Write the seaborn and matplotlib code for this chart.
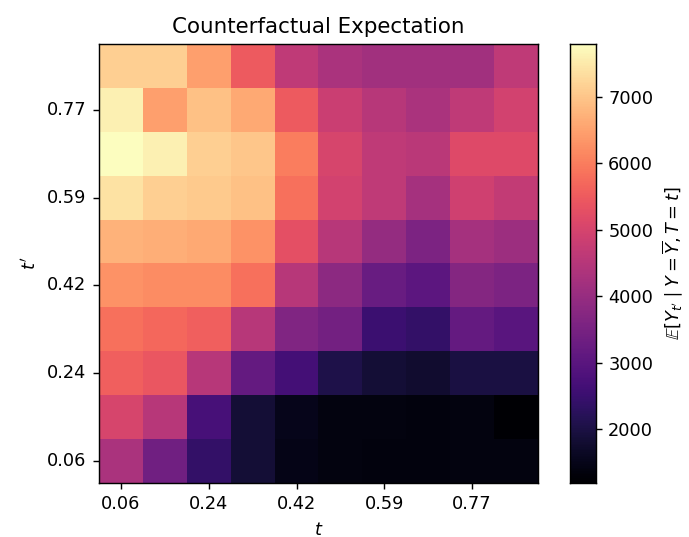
import numpy as np
import pandas as pd
import matplotlib
matplotlib.use('Agg')
from matplotlib import pyplot as plt
import seaborn as sns

# treatment grid (t on x, t' on y)
t_values = np.round(np.linspace(0.06, 0.86, 10), 2)

# counterfactual expectation, rows from t'=0.86 (top) down to t'=0.06 (bottom)
row_086 = [7130, 7130, 6470, 5480, 4620, 4290, 4160, 4160, 4160, 4620]
row_077 = [7590, 6470, 6930, 6600, 5480, 4820, 4490, 4290, 4620, 4950]
row_068 = [7790, 7590, 7130, 7000, 6010, 5020, 4620, 4560, 5150, 5150]
row_059 = [7390, 7130, 7060, 6930, 5810, 4950, 4620, 4230, 4890, 4690]
row_050 = [6730, 6670, 6600, 6270, 5280, 4490, 3960, 3570, 4230, 4090]
row_042 = [6270, 6210, 6210, 5810, 4490, 3830, 3240, 3040, 3700, 3570]
row_033 = [5810, 5680, 5550, 4490, 3630, 3430, 2510, 2380, 3170, 2970]
row_024 = [5550, 5410, 4490, 3170, 2640, 2050, 1850, 1780, 1980, 1980]
row_015 = [5020, 4490, 2710, 1850, 1520, 1390, 1390, 1360, 1390, 1190]
row_006 = [4290, 3370, 2380, 1850, 1450, 1390, 1360, 1360, 1390, 1390]

rows = [row_086, row_077, row_068, row_059, row_050,
        row_042, row_033, row_024, row_015, row_006]
df = pd.DataFrame(rows, index=t_values[::-1], columns=t_values)

fig = plt.figure(figsize=(689 / 128, 537 / 128), dpi=128)
ax = fig.add_axes([0.1437, 0.1006, 0.637, 0.8175])
cax = fig.add_axes([0.827, 0.1006, 0.0377, 0.8175])

sns.heatmap(df, cmap='magma', ax=ax, cbar_ax=cax,
            cbar_kws={'label': r"$\mathbb{E}[Y_{t^{\prime}} \mid Y = \overline{Y}, T = t]$"})

for sp in ax.spines.values():
    sp.set_visible(True)
    sp.set_color('black')

tick_idx = [0, 2, 4, 6, 8]
ax.set_xticks([i + 0.5 for i in tick_idx])
ax.set_xticklabels([f'{t_values[i]:.2f}' for i in tick_idx], rotation=0)
ax.set_yticks([9 - i + 0.5 for i in tick_idx])
ax.set_yticklabels([f'{t_values[i]:.2f}' for i in tick_idx], rotation=0)
ax.tick_params(length=3.5, width=0.8)

ax.set_xlabel('$t$')
ax.set_ylabel(r"$t^{\prime}$")
ax.set_title('Counterfactual Expectation')

for sp in cax.spines.values():
    sp.set_visible(True)
    sp.set_color('black')

fig.savefig('out.png', dpi=128)
